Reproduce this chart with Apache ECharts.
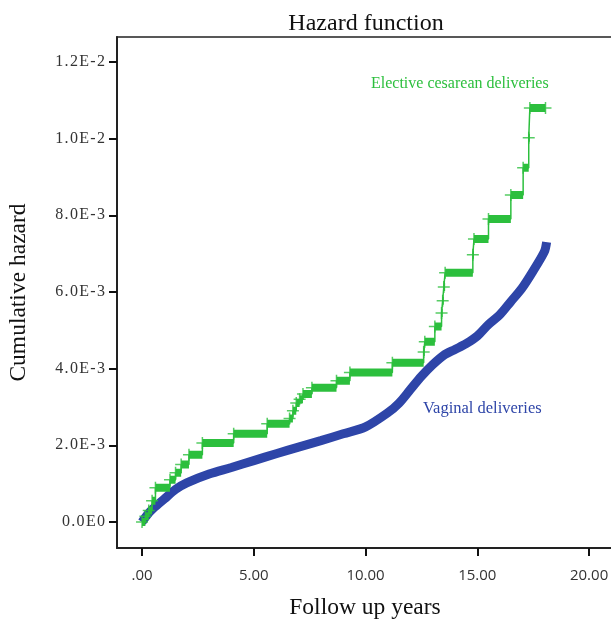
<!DOCTYPE html>
<html>
<head>
<meta charset="utf-8">
<script src="https://cdn.jsdelivr.net/npm/echarts@6/dist/echarts.min.js"></script>
<style>
  html, body { margin: 0; padding: 0; background: #fff; }
  #chart { width: 611px; height: 620px; }
</style>
</head>
<body>
<div id="chart"></div>
<script>
// Vaginal deliveries - cumulative hazard (years, value)
const vaginalYears = [0, 0.25, 0.5, 1, 1.5, 2, 3, 4, 5, 6, 7, 8, 9, 10, 11, 11.5, 12, 12.5, 13, 13.5, 14, 14.5, 15, 15.5, 16, 16.5, 17, 17.5, 18, 18.1];
const vaginalHazard = [0, 0.0002, 0.00035, 0.0006, 0.00085, 0.00102, 0.00125, 0.00142, 0.0016, 0.00178, 0.00195, 0.00212, 0.0023, 0.00248, 0.00285, 0.0031, 0.00345, 0.0038, 0.0041, 0.00435, 0.0045, 0.00465, 0.00485, 0.00515, 0.0054, 0.00575, 0.0061, 0.00655, 0.00705, 0.0073];

// Elective cesarean deliveries - step function (jump time, level)
const cesareanYears = [0, 0.15, 0.3, 0.45, 0.6, 1.25, 1.5, 1.75, 2.1, 2.7, 4.1, 5.6, 6.6, 6.75, 6.9, 7.05, 7.2, 7.6, 8.7, 9.3, 11.2, 12.6, 12.65, 13.1, 13.4, 13.45, 13.5, 13.56, 14.8, 14.85, 15.5, 16.5, 17.05, 17.3, 17.35, 18.05];
const cesareanHazard = [0, 0.00015, 0.0003, 0.00055, 0.00089, 0.0011, 0.00128, 0.0015, 0.00175, 0.00206, 0.0023, 0.00256, 0.0027, 0.0029, 0.0031, 0.0032, 0.00334, 0.0035, 0.00368, 0.0039, 0.00415, 0.00443, 0.0047, 0.0051, 0.00545, 0.00577, 0.00613, 0.0065, 0.00697, 0.00738, 0.0079, 0.00853, 0.00924, 0.01002, 0.0108, 0.0108];

const xTickValues = [0, 5, 10, 15, 20];
const xTickLabels = [".00", "5.00", "10.00", "15.00", "20.00"];
const yTickValues = [0, 0.002, 0.004, 0.006, 0.008, 0.010, 0.012];
const yTickLabels = ["0.0E0", "2.0E-3", "4.0E-3", "6.0E-3", "8.0E-3", "1.0E-2", "1.2E-2"];

const green = "#2cbf3d";
const blue = "#2e45a8";
const serif = "'Liberation Serif', 'DejaVu Serif', serif";

const vaginalData = vaginalYears.map((x, i) => [x, vaginalHazard[i]]);
const cesareanData = cesareanYears.map((x, i) => [x, cesareanHazard[i]]);

// thick flat parts of the steps
const flatData = [];
for (let i = 0; i < cesareanYears.length - 1; i++) {
  flatData.push([cesareanYears[i], cesareanHazard[i]]);
  flatData.push([cesareanYears[i + 1], cesareanHazard[i]]);
  flatData.push("-");
}

const chart = echarts.init(document.getElementById("chart"));
const option = {
  animation: false,
  title: {
    text: "Hazard function",
    left: 361,
    top: 7,
    textAlign: "center",
    textStyle: { fontFamily: serif, fontSize: 24, fontWeight: "normal", color: "#111" }
  },
  grid: {
    left: 117, right: -2, top: 37, bottom: 72,
    outerBoundsMode: "none",
    containLabel: false,
    show: true, borderColor: "#222", borderWidth: 1.5
  },
  xAxis: {
    type: "value",
    min: -1.12, max: 21.07,
    name: "Follow up years",
    nameLocation: "middle",
    nameGap: 48,
    nameMoveOverlap: false,
    nameTextStyle: { fontFamily: serif, fontSize: 23.5, color: "#111" },
    splitLine: { show: false },
    axisLine: { show: true, onZero: false, lineStyle: { color: "#222", width: 2 } },
    axisTick: { show: true, customValues: xTickValues, length: 8, lineStyle: { color: "#111", width: 2 } },
    axisLabel: {
      customValues: xTickValues,
      margin: 20,
      fontFamily: "'Open Sans', sans-serif",
      fontSize: 15,
      color: "#333",
      formatter: v => xTickLabels[xTickValues.indexOf(v)]
    }
  },
  yAxis: {
    type: "value",
    min: -0.00068, max: 0.01265,
    name: "Cumulative hazard",
    nameLocation: "middle",
    nameRotate: 90,
    nameGap: 86,
    nameMoveOverlap: false,
    nameTextStyle: { fontFamily: serif, fontSize: 23.5, color: "#111" },
    splitLine: { show: false },
    axisLine: { show: true, onZero: false, lineStyle: { color: "#222", width: 2 } },
    axisTick: { show: true, customValues: yTickValues, length: 8, lineStyle: { color: "#111", width: 2 } },
    axisLabel: {
      customValues: yTickValues,
      margin: 12,
      fontFamily: serif,
      fontSize: 16,
      color: "#333",
      formatter: v => {
        const i = yTickValues.findIndex(t => Math.abs(t - v) < 1e-9);
        return i >= 0 ? yTickLabels[i].split("").join("\u200a") : "";
      }
    }
  },
  graphic: [
    {
      type: "text", left: 371, top: 76,
      style: { text: "Elective cesarean deliveries", fill: green, font: "16px " + serif }
    },
    {
      type: "text", left: 423, top: 400,
      style: { text: "Vaginal deliveries", fill: blue, font: "16.5px " + serif }
    }
  ],
  series: [
    {
      name: "Vaginal deliveries",
      type: "line",
      data: vaginalData,
      smooth: 0.3,
      showSymbol: false,
      lineStyle: { color: blue, width: 9 },
      z: 2
    },
    {
      name: "Elective cesarean deliveries",
      type: "line",
      data: cesareanData,
      step: "end",
      showSymbol: false,
      lineStyle: { color: green, width: 1.5 },
      z: 3
    },
    {
      name: "Elective cesarean flat",
      type: "line",
      data: flatData,
      connectNulls: false,
      showSymbol: false,
      lineStyle: { color: green, width: 8, cap: "butt" },
      z: 3
    },
    {
      name: "Censored",
      type: "scatter",
      data: cesareanData,
      symbol: "path://M0,5 L10,5 M5,0 L5,10",
      symbolSize: 12,
      itemStyle: { color: "none", borderColor: green, borderWidth: 1.5 },
      z: 4
    }
  ]
};
chart.setOption(option);
window.addEventListener("resize", function () {
  chart.resize();
});
</script>
</body>
</html>
